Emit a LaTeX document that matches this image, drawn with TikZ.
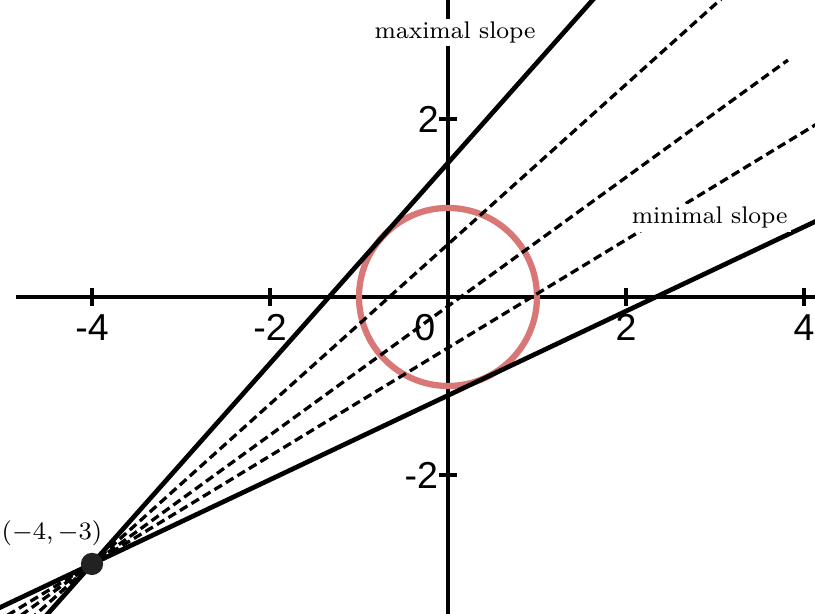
\documentclass[tikz,border=0pt]{standalone}
\usepackage{fontspec}
\setsansfont{Liberation Sans}
\usepackage{xcolor}
\usepackage{tikz}
\definecolor{circc}{HTML}{D97777}
\definecolor{dotc}{HTML}{222222}

\begin{document}
\begin{tikzpicture}[
    axis/.style={line width=1.1pt, black},
    tangent/.style={line width=1.5pt, black},
    dashline/.style={line width=1.05pt, black, dash pattern=on 2.8pt off 1.5pt},
    ticklab/.style={font=\fontsize{12}{14}\sffamily, inner sep=0pt},
    lab/.style={font=\fontsize{7.7}{9}\selectfont, fill=white, inner sep=1pt}]
  \useasboundingbox (-5.034,-3.562) rectangle (4.124,3.337);
  \clip (-5.034,-3.562) rectangle (4.124,3.337);
  % axes
  \draw[axis] (-4.85,0) -- (4.2,0);
  \draw[axis] (0,-3.7) -- (0,3.4);
  \foreach \x in {-4,-2,2,4}
    \draw[axis] (\x,-0.1) -- (\x,0.1);
  \foreach \y in {-2,2}
    \draw[axis] (-0.1,\y) -- (0.1,\y);
  \foreach \x in {-4,-2,2,4}
    \node[ticklab] (x\x) at (\x,-0.34) {\x};
  \node[ticklab] (x0) at (-0.26,-0.34) {0};
  \node[ticklab] (y2) at (-0.22,2) {2};
  \node[ticklab] (ym2) at (-0.3,-2) {-2};
  % circle
  \draw[line width=2pt, circc] (0,0) circle (1);
  % lines through the point
  \coordinate (P) at (-4,-3);
  \foreach \m/\a/\b in {0.898/-4.7/3.4, 0.724/-4.8/3.82, 0.607/-4.95/4.3}
    \draw[dashline] (\a,{-3+\m*(\a+4)}) -- (\b,{-3+\m*(\b+4)});
  \draw[tangent] (-4.6,-3.676) -- (1.8,3.534);
  \draw[tangent] (-5.1,-3.521) -- (4.2,0.882);
  \fill[dotc] (P) circle (0.125);
  % labels
  \node[lab] (maxl) at (0.08,2.97) {maximal slope};
  \node[lab] (minl) at (2.94,0.89) {minimal slope};
  \node[font=\fontsize{7.7}{9}\selectfont, inner sep=0pt] (pl) at (-4.45,-2.65) {$(-4,-3)$};
\end{tikzpicture}
\end{document}
